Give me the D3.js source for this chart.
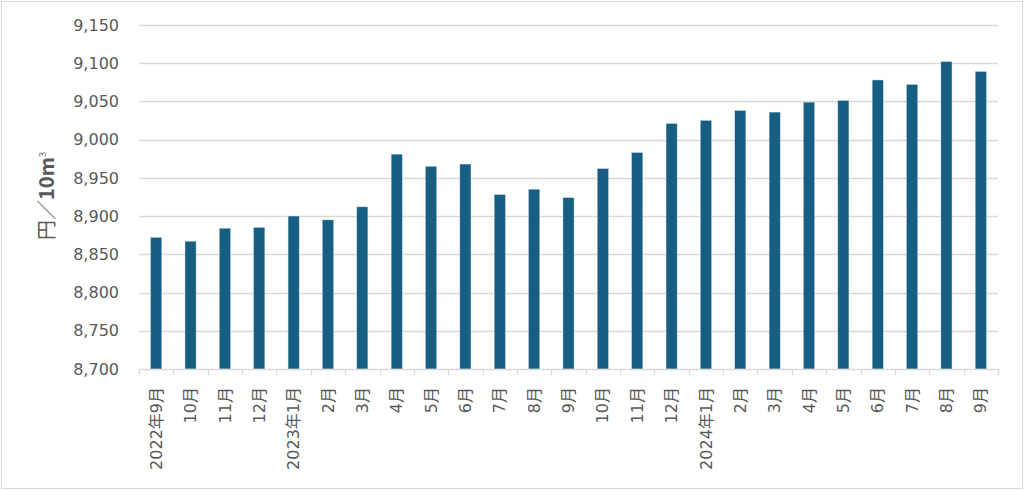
<!DOCTYPE html>
<html><head><meta charset="utf-8">
<script src="https://cdn.jsdelivr.net/npm/d3@7"></script>
<style>
html,body{margin:0;padding:0;background:#fff;}
svg{display:block;}
</style></head>
<body>
<svg id="chart" width="1024" height="490"></svg>
<script>
const categories = ["2022年9月","10月","11月","12月","2023年1月","2月","3月","4月","5月","6月","7月","8月","9月","10月","11月","12月","2024年1月","2月","3月","4月","5月","6月","7月","8月","9月"];
const values = [8872,8867,8884,8885,8900,8895,8912,8981,8965,8968,8928,8935,8924,8962,8983,9021,9025,9038,9036,9049,9051,9078,9072,9102,9089];
const yTicks = [8700,8750,8800,8850,8900,8950,9000,9050,9100,9150];
const yTitle = ["円／","10m","3"];

const svg = d3.select("#chart");
const W = 1024, H = 490;
const m = {left:139, right:1024-998, top:25, bottom:490-369};
const fontFam = "'DejaVu Sans','Noto Sans CJK JP',sans-serif";
const txt = "#595959";

svg.append("rect").attr("x",1.5).attr("y",1.5).attr("width",W-3).attr("height",H-3)
  .attr("fill","#fff").attr("stroke","#d9d9d9").attr("stroke-width",1);

const idx = categories.map((d,i)=>i);
const x = d3.scaleBand().domain(idx).range([m.left, W-m.right]).paddingInner(0.68).paddingOuter(0.34);
const y = d3.scaleLinear().domain([8700,9150]).range([H-m.bottom, m.top]);

// gridlines
svg.append("g").selectAll("line").data(yTicks.slice(1)).join("line")
  .attr("x1",m.left).attr("x2",W-m.right)
  .attr("y1",d=>Math.round(y(d))+0.5).attr("y2",d=>Math.round(y(d))+0.5)
  .attr("stroke","#d9d9d9").attr("stroke-width",1.3);

// y axis labels
const ya = svg.append("g").attr("transform",`translate(${m.left},0)`)
  .call(d3.axisLeft(y).tickValues(yTicks).tickFormat(d3.format(",")).tickSize(0).tickPadding(20));
ya.select(".domain").remove();
ya.selectAll("text").attr("font-family",fontFam).attr("font-size",16).attr("fill",txt);

// bars
svg.append("g").selectAll("rect").data(values).join("rect")
  .attr("x",(d,i)=>x(i)).attr("width",x.bandwidth())
  .attr("y",d=>y(d)).attr("height",d=>y(8700)-y(d))
  .attr("fill","#175f82").attr("stroke","#a9c6d6").attr("stroke-width",0.4);

// x axis
const step = x.step();
const xa = svg.append("g").attr("transform",`translate(0,${H-m.bottom})`);
xa.append("line").attr("x1",m.left).attr("x2",W-m.right).attr("y1",0.5).attr("y2",0.5)
  .attr("stroke","#d9d9d9").attr("stroke-width",1.3);
const bounds = idx.map(i=>x(i)+x.bandwidth()/2-step/2).concat([W-m.right]);
xa.selectAll("line.tk").data(bounds).join("line").attr("class","tk")
  .attr("x1",d=>Math.round(d)+0.5).attr("x2",d=>Math.round(d)+0.5).attr("y1",0).attr("y2",6)
  .attr("stroke","#d9d9d9").attr("stroke-width",1.3);
xa.selectAll("text").data(categories).join("text")
  .attr("transform",(d,i)=>`translate(${x(i)+x.bandwidth()/2},18) rotate(-90)`)
  .attr("text-anchor","end").attr("dy","0.35em")
  .attr("font-family",fontFam).attr("font-size",16).attr("fill",txt)
  .text(d=>d);

// y title
const t = svg.append("text").attr("transform","translate(47,196) rotate(-90)")
  .attr("text-anchor","middle").attr("dy","0.35em")
  .attr("font-family","'Noto Sans CJK JP',sans-serif").attr("font-size",20).attr("fill",txt);
t.append("tspan").text(yTitle[0]);
t.append("tspan").attr("font-weight","bold").text(yTitle[1]);
t.append("tspan").attr("font-size",9).attr("dy","-0.9em").text(yTitle[2]);
</script>
</body></html>
